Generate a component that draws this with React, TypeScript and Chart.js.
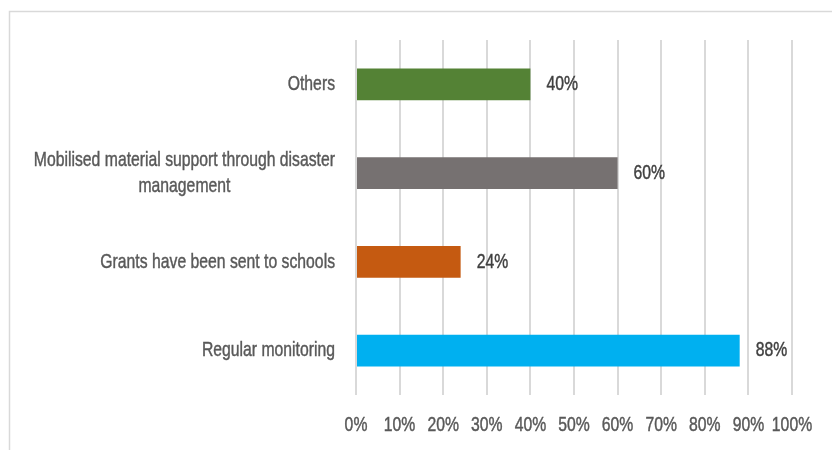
import React, { useEffect, useRef } from "react";
import { Chart, registerables } from "chart.js";

Chart.register(...registerables);

const categories: string[][] = [
  ["Others"],
  ["Mobilised material support through disaster", "management"],
  ["Grants have been sent to schools"],
  ["Regular monitoring"],
];
const values: number[] = [40, 60, 24, 88];
const barColors: string[] = ["#548235", "#767171", "#C55A11", "#00B0F0"];
const tickValues: number[] = [0, 10, 20, 30, 40, 50, 60, 70, 80, 90, 100];

const FONT = "'Liberation Sans', Arial, sans-serif";
const SX = 0.75;

function drawText(ctx: CanvasRenderingContext2D, text: string, x: number, y: number, align: CanvasTextAlign) {
  ctx.save();
  ctx.translate(x, y);
  ctx.scale(SX, 1);
  ctx.textAlign = align;
  ctx.fillText(text, 0, 0);
  ctx.strokeStyle = ctx.fillStyle as string;
  ctx.lineWidth = 0.45;
  ctx.strokeText(text, 0, 0);
  ctx.restore();
}

export default function App() {
  const ref = useRef<HTMLCanvasElement | null>(null);

  useEffect(() => {
    const canvas = ref.current;
    if (!canvas) return;

    const framePlugin = {
      id: "frame",
      beforeDraw(chart: any) {
        const ctx = chart.ctx;
        ctx.save();
        ctx.fillStyle = "#ffffff";
        ctx.fillRect(0, 0, chart.width, chart.height);
        ctx.strokeStyle = "#d9d9d9";
        ctx.lineWidth = 1.5;
        ctx.beginPath();
        ctx.moveTo(9.5, chart.height);
        ctx.lineTo(9.5, 11.5);
        ctx.lineTo(chart.width, 11.5);
        ctx.stroke();
        ctx.restore();
      },
    };

    const labelPlugin = {
      id: "labels",
      afterDatasetsDraw(chart: any) {
        const ctx: CanvasRenderingContext2D = chart.ctx;
        const yScale = chart.scales.y;
        const xScale = chart.scales.x;
        ctx.save();
        ctx.font = `21px ${FONT}`;
        ctx.fillStyle = "#595959";
        ctx.textBaseline = "middle";
        const rightEdge = chart.chartArea.left - 21;
        const lineH = 26;
        categories.forEach((lines, i) => {
          const y = yScale.getPixelForTick(i);
          const maxW = Math.max(...lines.map((l) => ctx.measureText(l).width)) * SX;
          const cx = rightEdge - maxW / 2;
          const startY = y - ((lines.length - 1) * lineH) / 2;
          lines.forEach((l, j) => drawText(ctx, l, cx, startY + j * lineH, "center"));
        });
        // x tick labels
        const tickY = chart.chartArea.bottom + 30;
        tickValues.forEach((v) => {
          drawText(ctx, `${v}%`, xScale.getPixelForValue(v), tickY, "center");
        });
        // value labels
        ctx.fillStyle = "#404040";
        const meta = chart.getDatasetMeta(0);
        meta.data.forEach((bar: any, i: number) => {
          drawText(ctx, `${values[i]}%`, bar.x + 16, bar.y, "left");
        });
        ctx.restore();
      },
    };

    const chart = new Chart(canvas, {
      type: "bar",
      data: {
        labels: categories.map((c) => c.join(" ")),
        datasets: [
          {
            data: values,
            backgroundColor: barColors,
            borderWidth: 0,
            categoryPercentage: 0.6,
            barPercentage: 0.6,
          },
        ],
      },
      options: {
        indexAxis: "y",
        responsive: false,
        animation: false,
        layout: { padding: { top: 40, right: 40, left: 0, bottom: 0 } },
        plugins: {
          legend: { display: false },
          tooltip: { enabled: false },
        },
        scales: {
          x: {
            min: 0,
            max: 100,
            afterBuildTicks(scale: any) {
              scale.ticks = tickValues.map((v) => ({ value: v }));
            },
            afterFit(scale: any) {
              scale.height = 55;
            },
            grid: { color: "#d9d9d9", lineWidth: 2, drawTicks: false },
            border: { display: false },
            ticks: { display: false },
          },
          y: {
            afterFit(scale: any) {
              scale.width = 356;
            },
            grid: { display: false },
            border: { display: false },
            ticks: { display: false },
          },
        },
      },
      plugins: [framePlugin, labelPlugin],
    });

    return () => chart.destroy();
  }, []);

  return (
    <div style={{ position: "fixed", left: 0, top: 0, width: 832, height: 450, overflow: "hidden", background: "#fff" }}>
      <canvas ref={ref} width={832} height={450} style={{ display: "block", width: 832, height: 450 }} />
    </div>
  );
}
